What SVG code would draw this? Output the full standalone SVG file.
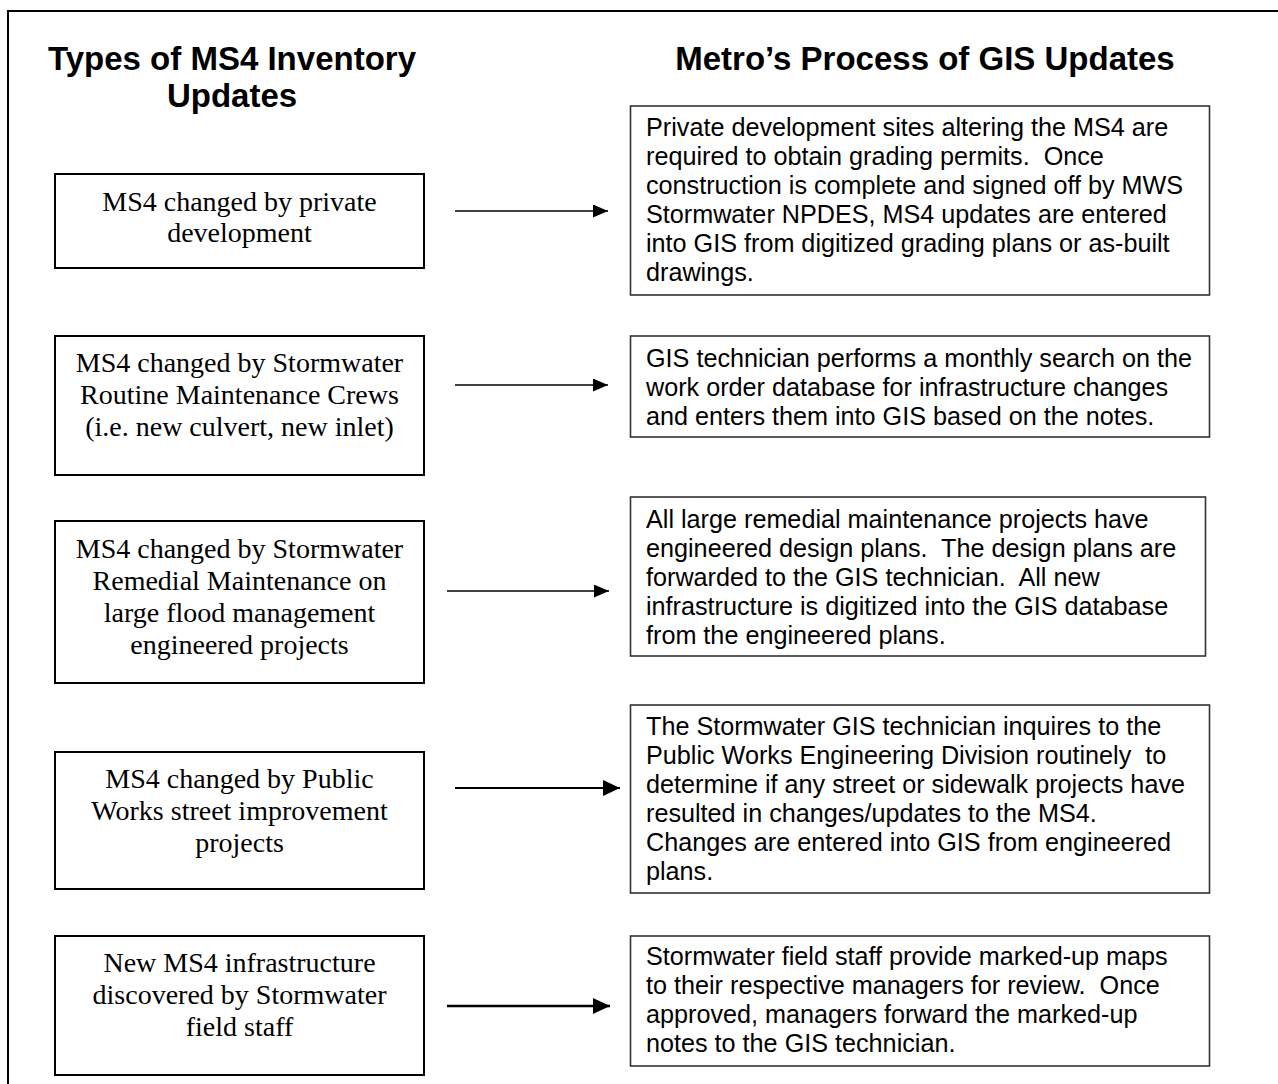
<svg xmlns="http://www.w3.org/2000/svg" width="1278" height="1084" viewBox="0 0 1278 1084">
<style>
.frame{fill:none;stroke:#000;stroke-width:2}
.lbox{fill:#fff;stroke:#000;stroke-width:2}
.rbox{fill:#fff;stroke:#333;stroke-width:1.6}
.head{font-family:"Liberation Sans",Arial,sans-serif;font-weight:bold;font-size:33px;fill:#000;text-anchor:middle}
.lt{font-family:"Liberation Serif","Times New Roman",serif;font-size:28px;fill:#000;text-anchor:middle}
.rt{font-family:"Liberation Sans",Arial,sans-serif;font-size:25.2px;fill:#000;white-space:pre}
.arr{stroke:#000;fill:none}
</style>
<defs>
<marker id="ah" markerUnits="userSpaceOnUse" markerWidth="16" markerHeight="14" refX="15" refY="6.5" orient="auto" viewBox="0 0 16 14">
<path d="M0,0 L15,6.5 L0,13 Z" fill="#000"/>
</marker>
<marker id="ahb" markerUnits="userSpaceOnUse" markerWidth="18" markerHeight="17" refX="17" refY="8" orient="auto" viewBox="0 0 18 17">
<path d="M0,0 L17,8 L0,16 Z" fill="#000"/>
</marker>
</defs>
<rect class="frame" x="8" y="11" width="1300" height="1100"/>
<g id="heading-left">
<text class="head" x="232" y="70">Types of MS4 Inventory</text>
<text class="head" x="232" y="107">Updates</text>
</g>
<g id="heading-right">
<text class="head" x="925" y="70">Metro’s Process of GIS Updates</text>
</g>
<g id="type1">
<rect class="lbox" x="55" y="174" width="369" height="94"/>
<text class="lt" x="239.5" y="211">MS4 changed by private</text>
<text class="lt" x="239.5" y="242">development</text>
</g>
<g id="type2">
<rect class="lbox" x="55" y="336" width="369" height="139"/>
<text class="lt" x="239.5" y="372">MS4 changed by Stormwater</text>
<text class="lt" x="239.5" y="404">Routine Maintenance Crews</text>
<text class="lt" x="239.5" y="436">(i.e. new culvert, new inlet)</text>
</g>
<g id="type3">
<rect class="lbox" x="55" y="521" width="369" height="162"/>
<text class="lt" x="239.5" y="558">MS4 changed by Stormwater</text>
<text class="lt" x="239.5" y="590">Remedial Maintenance on</text>
<text class="lt" x="239.5" y="622">large flood management</text>
<text class="lt" x="239.5" y="654">engineered projects</text>
</g>
<g id="type4">
<rect class="lbox" x="55" y="752" width="369" height="137"/>
<text class="lt" x="239.5" y="788">MS4 changed by Public</text>
<text class="lt" x="239.5" y="820">Works street improvement</text>
<text class="lt" x="239.5" y="852">projects</text>
</g>
<g id="type5">
<rect class="lbox" x="55" y="936" width="369" height="139"/>
<text class="lt" x="239.5" y="972">New MS4 infrastructure</text>
<text class="lt" x="239.5" y="1004">discovered by Stormwater</text>
<text class="lt" x="239.5" y="1036">field staff</text>
</g>
<g id="process1">
<rect class="rbox" x="630.5" y="106" width="579" height="189"/>
<text class="rt" x="646" y="136">Private development sites altering the MS4 are</text>
<text class="rt" x="646" y="165">required to obtain grading permits.  Once</text>
<text class="rt" x="646" y="194">construction is complete and signed off by MWS</text>
<text class="rt" x="646" y="223">Stormwater NPDES, MS4 updates are entered</text>
<text class="rt" x="646" y="252">into GIS from digitized grading plans or as-built</text>
<text class="rt" x="646" y="281">drawings.</text>
</g>
<g id="process2">
<rect class="rbox" x="630.5" y="336" width="579" height="101"/>
<text class="rt" x="646" y="367">GIS technician performs a monthly search on the</text>
<text class="rt" x="646" y="396">work order database for infrastructure changes</text>
<text class="rt" x="646" y="425">and enters them into GIS based on the notes.</text>
</g>
<g id="process3">
<rect class="rbox" x="630.5" y="497" width="575" height="159"/>
<text class="rt" x="646" y="528">All large remedial maintenance projects have</text>
<text class="rt" x="646" y="557">engineered design plans.  The design plans are</text>
<text class="rt" x="646" y="586">forwarded to the GIS technician.  All new</text>
<text class="rt" x="646" y="615">infrastructure is digitized into the GIS database</text>
<text class="rt" x="646" y="644">from the engineered plans.</text>
</g>
<g id="process4">
<rect class="rbox" x="630.5" y="705" width="579" height="188"/>
<text class="rt" x="646" y="735">The Stormwater GIS technician inquires to the</text>
<text class="rt" x="646" y="764">Public Works Engineering Division routinely  to</text>
<text class="rt" x="646" y="793">determine if any street or sidewalk projects have</text>
<text class="rt" x="646" y="822">resulted in changes/updates to the MS4.</text>
<text class="rt" x="646" y="851">Changes are entered into GIS from engineered</text>
<text class="rt" x="646" y="880">plans.</text>
</g>
<g id="process5">
<rect class="rbox" x="630.5" y="936" width="579" height="130"/>
<text class="rt" x="646" y="965">Stormwater field staff provide marked-up maps</text>
<text class="rt" x="646" y="994">to their respective managers for review.  Once</text>
<text class="rt" x="646" y="1023">approved, managers forward the marked-up</text>
<text class="rt" x="646" y="1052">notes to the GIS technician.</text>
</g>
<g id="connectors">
<line class="arr" x1="455" y1="211" x2="608" y2="211" stroke-width="1.4" marker-end="url(#ah)"/>
<line class="arr" x1="455" y1="385" x2="608" y2="385" stroke-width="1.4" marker-end="url(#ah)"/>
<line class="arr" x1="447" y1="591" x2="609" y2="591" stroke-width="1.4" marker-end="url(#ah)"/>
<line class="arr" x1="455" y1="788" x2="620" y2="788" stroke-width="2.2" marker-end="url(#ahb)"/>
<line class="arr" x1="447" y1="1006" x2="610" y2="1006" stroke-width="2.5" marker-end="url(#ahb)"/>
</g>
</svg>
